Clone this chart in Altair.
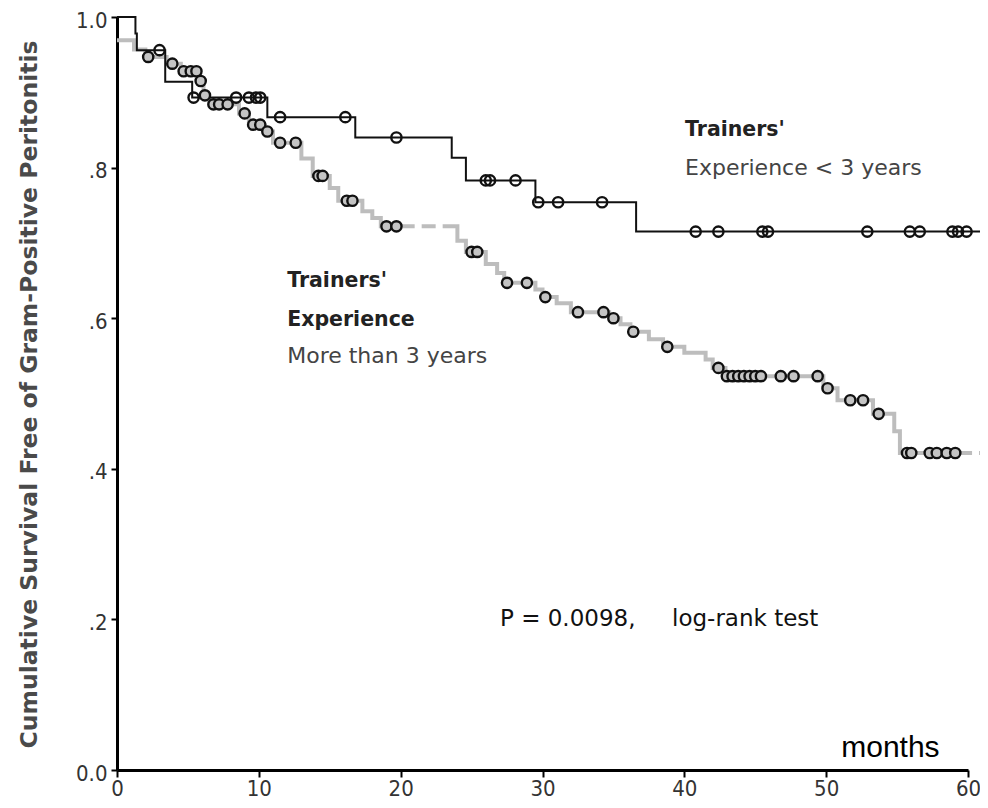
import altair as alt
import pandas as pd

# ---------------- data ----------------
month_ticks = [0, 10, 20, 30, 40, 50, 60]
surv_ticks = [0.0, 0.2, 0.4, 0.6, 0.8, 1.0]
t_end = 61.4

# Trainers' experience < 3 years (black step curve)
black_t = [0.0, 1.3, 1.4, 3.4, 5.3, 10.6, 16.8, 23.6, 24.6, 29.5, 36.6]
black_s = [1.0, 0.978, 0.956, 0.914, 0.893, 0.867, 0.840, 0.813, 0.783, 0.754, 0.715]
black_cens_t = [3.0, 5.4, 8.4, 9.3, 9.8, 10.1, 11.5, 16.1, 19.7, 26.0, 26.3, 28.1,
                29.7, 31.1, 34.2, 40.8, 42.4, 45.5, 45.9, 52.9, 55.9, 56.6, 58.9, 59.3, 59.9]
black_cens_s = [0.956, 0.893, 0.893, 0.893, 0.893, 0.893, 0.867, 0.867, 0.840, 0.783, 0.783, 0.783,
                0.754, 0.754, 0.754, 0.715, 0.715, 0.715, 0.715, 0.715, 0.715, 0.715, 0.715, 0.715, 0.715]

# Trainers' experience more than 3 years (grey step curve)
gray_t = [0.0, 1.2, 2.0, 3.5, 4.5, 5.8, 6.1, 6.5, 8.6, 9.3, 10.4, 11.0, 13.0, 13.8, 15.0, 15.6,
          17.3, 18.0, 18.6, 24.0, 24.6, 26.0, 26.8, 27.3, 29.5, 30.0, 31.0, 32.0, 34.7, 35.5,
          36.2, 37.5, 38.5, 40.0, 41.5, 42.0, 42.9, 49.8, 50.8, 53.3, 54.8, 55.2]
gray_s = [0.969, 0.957, 0.947, 0.938, 0.928, 0.915, 0.896, 0.884, 0.872, 0.857, 0.848, 0.833,
          0.812, 0.789, 0.773, 0.756, 0.742, 0.733, 0.722, 0.703, 0.688, 0.672, 0.660, 0.647,
          0.638, 0.628, 0.620, 0.608, 0.600, 0.592, 0.582, 0.572, 0.562, 0.554, 0.545, 0.534,
          0.523, 0.507, 0.491, 0.473, 0.450, 0.421]
gray_cens_t = [2.2, 3.9, 4.7, 5.2, 5.6, 5.9, 6.2, 6.8, 7.2, 7.8, 9.0, 9.6, 10.1, 10.6, 11.5, 12.6,
               14.2, 14.5, 16.2, 16.6, 19.0, 19.7, 25.0, 25.4, 27.5, 28.9, 30.2, 32.5, 34.3, 35.0,
               36.4, 38.8, 42.4, 43.0, 43.4, 43.8, 44.2, 44.6, 45.0, 45.4, 46.8, 47.7, 49.4, 50.1,
               51.7, 52.6, 53.7, 55.7, 56.0, 57.3, 57.8, 58.5, 59.1]
gray_cens_s = [0.947, 0.938, 0.928, 0.928, 0.928, 0.915, 0.896, 0.884, 0.884, 0.884, 0.872, 0.857,
               0.857, 0.848, 0.833, 0.833, 0.789, 0.789, 0.756, 0.756, 0.722, 0.722, 0.688, 0.688,
               0.647, 0.647, 0.628, 0.608, 0.608, 0.600, 0.582, 0.562, 0.534, 0.523, 0.523, 0.523,
               0.523, 0.523, 0.523, 0.523, 0.523, 0.523, 0.523, 0.507, 0.491, 0.491, 0.473, 0.421,
               0.421, 0.421, 0.421, 0.421, 0.421]
gray_dash_ranges = [(20.0, 23.9), (59.3, t_end)]

# annotations
bold_text = ["Trainers'", "Trainers'", "Experience"]
bold_t = [40.05, 12.0, 12.0]
bold_s = [0.850, 0.649, 0.598]
reg_text = ["Experience < 3 years", "More than 3 years"]
reg_t = [40.05, 12.0]
reg_s = [0.799, 0.550]
p_text = ["P = 0.0098,\u00a0\u00a0\u00a0\u00a0\u00a0log-rank test"]
p_t = [27.0]
p_s = [0.2005]
unit_text = ["months"]
unit_t = [58.0]
unit_s = [0.029]

Y_TITLE = "Cumulative Survival Free of Gram-Positive Peritonitis"

# ---------------- tables ----------------
def level_at(ts, ss, c):
    lv = ss[0]
    for t, s in zip(ts, ss):
        if t <= c:
            lv = s
    return lv

black_df = pd.DataFrame({"t": black_t + [t_end], "s": black_s + [black_s[-1]]})
black_df["i"] = range(len(black_df))

bounds = sorted(set([0.0, t_end] + [v for r in gray_dash_ranges for v in r]))
rows = []
for k in range(len(bounds) - 1):
    a, b = bounds[k], bounds[k + 1]
    style = "dashed" if any(abs(a - r[0]) < 1e-9 for r in gray_dash_ranges) else "solid"
    pts = [(a, level_at(gray_t, gray_s, a))]
    pts += [(t, s) for t, s in zip(gray_t, gray_s) if a < t < b]
    pts += [(b, level_at(gray_t, gray_s, b))]
    for j, (t, s) in enumerate(pts):
        rows.append({"piece": k, "style": style, "i": j, "t": t, "s": s})
gray_df = pd.DataFrame(rows)

bc_df = pd.DataFrame({"t": black_cens_t, "s": black_cens_s})
gc_df = pd.DataFrame({"t": gray_cens_t, "s": gray_cens_s})
bold_df = pd.DataFrame({"t": bold_t, "s": bold_s, "label": bold_text})
reg_df = pd.DataFrame({"t": reg_t, "s": reg_s, "label": reg_text})
p_df = pd.DataFrame({"t": p_t, "s": p_s, "label": p_text})
unit_df = pd.DataFrame({"t": unit_t, "s": unit_s, "label": unit_text})

TICK_FONT = "Liberation Sans Narrow, DejaVu Sans Condensed, Liberation Sans, sans-serif"

x_enc = alt.X("t:Q", scale=alt.Scale(domain=[0, 60], nice=False, zero=False),
              axis=alt.Axis(values=month_ticks, format="d", title=None, tickSize=7,
                            labelPadding=1, labelFlush=False))
y_enc = alt.Y("s:Q", scale=alt.Scale(domain=[0, 1], nice=False),
              axis=alt.Axis(values=surv_ticks,
                            labelExpr="datum.value == 0 ? '0.0' : (datum.value == 1 ? '1.0' : '.' + round(datum.value * 10))",
                            tickSize=6, labelPadding=4, labelOffset=3, labelFlush=False,
                            title=Y_TITLE, titleFont="DejaVu Sans", titleFontSize=23.5,
                            titleFontWeight="bold", titleColor="#4a4a4a",
                            titleX=-88, titleY=377, titleAngle=270,
                            titleAlign="center", titleBaseline="middle"))

gray_line = alt.Chart(gray_df).mark_line(
    interpolate="step-after", strokeWidth=4, color="#bdbdbd"
).encode(
    x=x_enc, y=y_enc, detail="piece:N", order="i:Q",
    strokeDash=alt.StrokeDash("style:N", legend=None,
                              scale=alt.Scale(domain=["solid", "dashed"], range=[[1, 0], [14, 7]])),
)

black_line = alt.Chart(black_df).mark_line(
    interpolate="step-after", strokeWidth=2, color="#111111"
).encode(x=x_enc, y=y_enc, order="i:Q")

gray_pts = alt.Chart(gc_df).mark_point(
    shape="circle", size=105, strokeWidth=2.4, stroke="#111111", fill="#c4c4c4",
    filled=True, opacity=1, fillOpacity=1
).encode(x=x_enc, y=y_enc)

black_pts = alt.Chart(bc_df).mark_point(
    shape="circle", size=105, strokeWidth=2.4, color="#111111", filled=False, opacity=1
).encode(x=x_enc, y=y_enc)

bold_lbl = alt.Chart(bold_df).mark_text(
    align="left", baseline="middle", font="DejaVu Sans", fontSize=20.5,
    fontWeight="bold", color="#222222"
).encode(x=x_enc, y=y_enc, text="label:N")

reg_lbl = alt.Chart(reg_df).mark_text(
    align="left", baseline="middle", font="DejaVu Sans", fontSize=22, color="#444444"
).encode(x=x_enc, y=y_enc, text="label:N")

p_lbl = alt.Chart(p_df).mark_text(
    align="left", baseline="middle", font="DejaVu Sans", fontSize=23, color="#111111"
).encode(x=x_enc, y=y_enc, text="label:N")

unit_lbl = alt.Chart(unit_df).mark_text(
    align="right", baseline="middle", font="Liberation Sans", fontSize=30, color="#000000"
).encode(x=x_enc, y=y_enc, text="label:N")

chart = alt.layer(
    gray_line, black_line, gray_pts, black_pts, bold_lbl, reg_lbl, p_lbl, unit_lbl
).properties(
    width=851, height=753,
    autosize=alt.AutoSizeParams(type="none"),
    padding={"left": 109, "top": 9, "right": 12, "bottom": 30},
    background="white",
).configure_view(stroke=None).configure_axis(
    grid=False, domainColor="#000000", domainWidth=3, tickColor="#000000", tickWidth=2,
    labelFont=TICK_FONT, labelFontSize=22, labelColor="#333333",
)

chart.save("out.html", embed_options={"renderer": "svg", "actions": False})
